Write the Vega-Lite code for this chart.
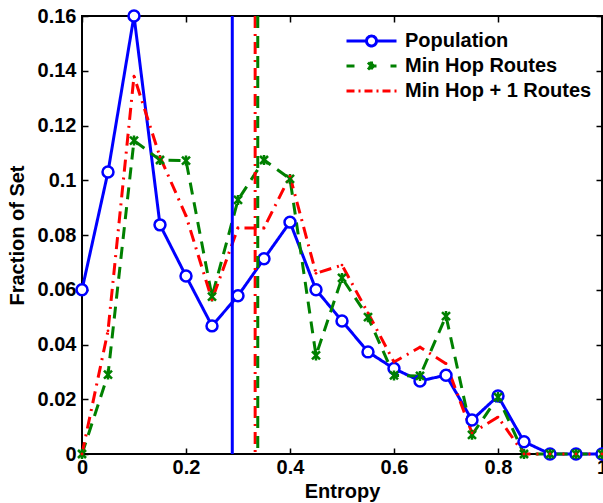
{
  "$schema": "https://vega.github.io/schema/vega-lite/v6.json",
  "width": 520,
  "height": 438,
  "autosize": {"type": "none"},
  "padding": {"left": 82, "top": 16, "right": 1, "bottom": 49},
  "background": "white",
  "config": {
    "font": "Liberation Sans",
    "view": {"stroke": "black", "strokeWidth": 2},
    "axis": {
      "labelFont": "Liberation Sans",
      "labelFontWeight": "bold",
      "labelFontSize": 20,
      "labelColor": "black",
      "labelFlush": false,
      "titleFont": "Liberation Sans",
      "titleFontWeight": "bold",
      "titleFontSize": 20,
      "titleColor": "black",
      "domain": false,
      "grid": false,
      "tickColor": "black",
      "tickWidth": 1.5,
      "tickSize": -6
    }
  },
  "datasets": {
    "curves": [
      {"series": "Population", "x": 0.0, "y": 0.060},
      {"series": "Population", "x": 0.05, "y": 0.103},
      {"series": "Population", "x": 0.1, "y": 0.160},
      {"series": "Population", "x": 0.15, "y": 0.0837},
      {"series": "Population", "x": 0.2, "y": 0.065},
      {"series": "Population", "x": 0.25, "y": 0.0468},
      {"series": "Population", "x": 0.3, "y": 0.0578},
      {"series": "Population", "x": 0.35, "y": 0.0713},
      {"series": "Population", "x": 0.4, "y": 0.0847},
      {"series": "Population", "x": 0.45, "y": 0.060},
      {"series": "Population", "x": 0.5, "y": 0.0486},
      {"series": "Population", "x": 0.55, "y": 0.0373},
      {"series": "Population", "x": 0.6, "y": 0.0312},
      {"series": "Population", "x": 0.65, "y": 0.0267},
      {"series": "Population", "x": 0.7, "y": 0.0288},
      {"series": "Population", "x": 0.75, "y": 0.0124},
      {"series": "Population", "x": 0.8, "y": 0.0212},
      {"series": "Population", "x": 0.85, "y": 0.0045},
      {"series": "Population", "x": 0.9, "y": 0.0},
      {"series": "Population", "x": 0.95, "y": 0.0},
      {"series": "Population", "x": 1.0, "y": 0.0},
      {"series": "Min Hop Routes", "x": 0.0, "y": 0.0},
      {"series": "Min Hop Routes", "x": 0.05, "y": 0.029},
      {"series": "Min Hop Routes", "x": 0.1, "y": 0.1145},
      {"series": "Min Hop Routes", "x": 0.15, "y": 0.1074},
      {"series": "Min Hop Routes", "x": 0.2, "y": 0.1072},
      {"series": "Min Hop Routes", "x": 0.25, "y": 0.0575},
      {"series": "Min Hop Routes", "x": 0.3, "y": 0.0928},
      {"series": "Min Hop Routes", "x": 0.35, "y": 0.1074},
      {"series": "Min Hop Routes", "x": 0.4, "y": 0.1005},
      {"series": "Min Hop Routes", "x": 0.45, "y": 0.036},
      {"series": "Min Hop Routes", "x": 0.5, "y": 0.0643},
      {"series": "Min Hop Routes", "x": 0.55, "y": 0.050},
      {"series": "Min Hop Routes", "x": 0.6, "y": 0.0287},
      {"series": "Min Hop Routes", "x": 0.65, "y": 0.0285},
      {"series": "Min Hop Routes", "x": 0.7, "y": 0.0504},
      {"series": "Min Hop Routes", "x": 0.75, "y": 0.007},
      {"series": "Min Hop Routes", "x": 0.8, "y": 0.0208},
      {"series": "Min Hop Routes", "x": 0.85, "y": 0.0},
      {"series": "Min Hop Routes", "x": 0.9, "y": 0.0},
      {"series": "Min Hop Routes", "x": 0.95, "y": 0.0},
      {"series": "Min Hop Routes", "x": 1.0, "y": 0.0},
      {"series": "Min Hop + 1 Routes", "x": 0.0, "y": 0.0},
      {"series": "Min Hop + 1 Routes", "x": 0.05, "y": 0.045},
      {"series": "Min Hop + 1 Routes", "x": 0.1, "y": 0.138},
      {"series": "Min Hop + 1 Routes", "x": 0.15, "y": 0.1085},
      {"series": "Min Hop + 1 Routes", "x": 0.2, "y": 0.087},
      {"series": "Min Hop + 1 Routes", "x": 0.25, "y": 0.0563},
      {"series": "Min Hop + 1 Routes", "x": 0.3, "y": 0.0826},
      {"series": "Min Hop + 1 Routes", "x": 0.35, "y": 0.0826},
      {"series": "Min Hop + 1 Routes", "x": 0.4, "y": 0.1015},
      {"series": "Min Hop + 1 Routes", "x": 0.45, "y": 0.066},
      {"series": "Min Hop + 1 Routes", "x": 0.5, "y": 0.069},
      {"series": "Min Hop + 1 Routes", "x": 0.55, "y": 0.0515},
      {"series": "Min Hop + 1 Routes", "x": 0.6, "y": 0.0336},
      {"series": "Min Hop + 1 Routes", "x": 0.65, "y": 0.039},
      {"series": "Min Hop + 1 Routes", "x": 0.7, "y": 0.033},
      {"series": "Min Hop + 1 Routes", "x": 0.75, "y": 0.0077},
      {"series": "Min Hop + 1 Routes", "x": 0.8, "y": 0.0135},
      {"series": "Min Hop + 1 Routes", "x": 0.85, "y": 0.0},
      {"series": "Min Hop + 1 Routes", "x": 0.9, "y": 0.0},
      {"series": "Min Hop + 1 Routes", "x": 0.95, "y": 0.0},
      {"series": "Min Hop + 1 Routes", "x": 1.0, "y": 0.0}
    ],
    "means": [
      {"series": "Min Hop + 1 Routes", "x": 0.333},
      {"series": "Min Hop Routes", "x": 0.338},
      {"series": "Population", "x": 0.289}
    ]
  },
  "resolve": {
    "axis": {"x": "independent", "y": "independent"},
    "scale": {"color": "independent", "strokeDash": "independent", "shape": "independent"},
    "legend": {"color": "independent", "strokeDash": "independent", "shape": "independent"}
  },
  "layer": [
    {
      "data": {"name": "curves"},
      "mark": {"type": "line", "strokeWidth": 3},
      "encoding": {
        "x": {"field": "x", "type": "quantitative", "scale": {"domain": [0, 1], "nice": false},
          "axis": {"orient": "bottom", "values": [0, 0.2, 0.4, 0.6, 0.8, 1], "format": "~g", "title": "Entropy", "labelPadding": 9, "titlePadding": 4}},
        "y": {"field": "y", "type": "quantitative", "scale": {"domain": [0, 0.16], "nice": false},
          "axis": {"orient": "left", "values": [0, 0.02, 0.04, 0.06, 0.08, 0.1, 0.12, 0.14, 0.16], "format": "~g", "title": "Fraction of Set", "labelPadding": 12, "titlePadding": 10}},
        "color": {"field": "series", "type": "nominal", "legend": null,
          "scale": {"domain": ["Population", "Min Hop Routes", "Min Hop + 1 Routes"], "range": ["#0000ff", "#008000", "#ff0000"]}},
        "strokeDash": {"field": "series", "type": "nominal", "legend": null,
          "scale": {"domain": ["Population", "Min Hop Routes", "Min Hop + 1 Routes"], "range": [[1, 0], [12, 8], [12, 6, 2, 6]]}},
        "order": {"field": "x", "type": "quantitative"}
      }
    },
    {
      "data": {"name": "curves"},
      "transform": [{"filter": "datum.series == 'Population'"}],
      "mark": {"type": "point", "shape": "circle", "size": 120, "strokeWidth": 2.5, "filled": false, "fill": "white", "fillOpacity": 1, "color": "#0000ff", "opacity": 1},
      "encoding": {
        "x": {"field": "x", "type": "quantitative", "scale": {"domain": [0, 1], "nice": false},
          "axis": {"orient": "top", "values": [0, 0.2, 0.4, 0.6, 0.8, 1], "labels": false, "title": null}},
        "y": {"field": "y", "type": "quantitative", "scale": {"domain": [0, 0.16], "nice": false},
          "axis": {"orient": "right", "values": [0, 0.02, 0.04, 0.06, 0.08, 0.1, 0.12, 0.14, 0.16], "labels": false, "title": null}}
      }
    },
    {
      "data": {"name": "curves"},
      "transform": [{"filter": "datum.series == 'Min Hop Routes'"}],
      "mark": {"type": "point", "shape": "M-0.8,-0.8L0.8,0.8M-0.8,0.8L0.8,-0.8M0,-1L0,1", "size": 100, "strokeWidth": 2.5, "filled": false, "color": "#008000", "opacity": 1},
      "encoding": {
        "x": {"field": "x", "type": "quantitative", "axis": null},
        "y": {"field": "y", "type": "quantitative", "axis": null}
      }
    },
    {
      "data": {"name": "curves"},
      "transform": [{"filter": "datum.series == 'Min Hop + 1 Routes'"}],
      "mark": {"type": "point", "shape": "circle", "size": 8, "filled": true, "color": "#ff0000", "opacity": 1},
      "encoding": {
        "x": {"field": "x", "type": "quantitative", "axis": null},
        "y": {"field": "y", "type": "quantitative", "axis": null}
      }
    },
    {
      "data": {"name": "means"},
      "mark": {"type": "rule", "strokeWidth": 3},
      "encoding": {
        "x": {"field": "x", "type": "quantitative", "axis": null},
        "color": {"field": "series", "type": "nominal", "legend": null,
          "scale": {"domain": ["Population", "Min Hop Routes", "Min Hop + 1 Routes"], "range": ["#0000ff", "#008000", "#ff0000"]}},
        "strokeDash": {"field": "series", "type": "nominal", "legend": null,
          "scale": {"domain": ["Population", "Min Hop Routes", "Min Hop + 1 Routes"], "range": [[1, 0], [12, 8], [12, 6, 2, 6]]}}
      }
    },
    {
      "data": {"name": "curves"},
      "transform": [{"filter": "datum.x > 5"}],
      "mark": {"type": "point", "filled": false, "size": 2500, "strokeWidth": 3, "opacity": 1},
      "encoding": {
        "x": {"field": "x", "type": "quantitative", "axis": null},
        "y": {"field": "y", "type": "quantitative", "axis": null},
        "color": {"field": "series", "type": "nominal",
          "scale": {"domain": ["Population", "Min Hop Routes", "Min Hop + 1 Routes"], "range": ["#0000ff", "#008000", "#ff0000"]},
          "legend": {"title": null, "orient": "none", "legendX": 263, "legendY": 13, "padding": 0, "labelFont": "Liberation Sans", "labelFontWeight": "bold", "labelFontSize": 20, "labelColor": "black", "labelOffset": 7, "labelLimit": 400, "symbolSize": 2500, "symbolStrokeWidth": 3, "clipHeight": 24, "rowPadding": 1, "symbolOpacity": 1}},
        "shape": {"field": "series", "type": "nominal",
          "scale": {"domain": ["Population", "Min Hop Routes", "Min Hop + 1 Routes"], "range": [
            "M-1,0L-0.22,0M0.22,0L1,0M0.2,0A0.2,0.2,0,1,1,-0.2,0A0.2,0.2,0,1,1,0.2,0",
            "M-1,0L1,0M-0.14,-0.14L0.14,0.14M-0.14,0.14L0.14,-0.14M0,-0.18L0,0.18",
            "M-1,0L1,0"]},
          "legend": {"title": null, "orient": "none", "legendX": 263, "legendY": 13, "padding": 0, "labelFont": "Liberation Sans", "labelFontWeight": "bold", "labelFontSize": 20, "labelColor": "black", "labelOffset": 7, "labelLimit": 400, "symbolSize": 2500, "symbolStrokeWidth": 3, "clipHeight": 24, "rowPadding": 1, "symbolOpacity": 1}},
        "strokeDash": {"field": "series", "type": "nominal",
          "scale": {"domain": ["Population", "Min Hop Routes", "Min Hop + 1 Routes"], "range": [[1, 0], [8, 14], [8, 4, 2, 4]]},
          "legend": {"title": null, "orient": "none", "legendX": 263, "legendY": 13, "padding": 0, "labelFont": "Liberation Sans", "labelFontWeight": "bold", "labelFontSize": 20, "labelColor": "black", "labelOffset": 7, "labelLimit": 400, "symbolSize": 2500, "symbolStrokeWidth": 3, "clipHeight": 24, "rowPadding": 1, "symbolOpacity": 1}}
      }
    }
  ]
}
